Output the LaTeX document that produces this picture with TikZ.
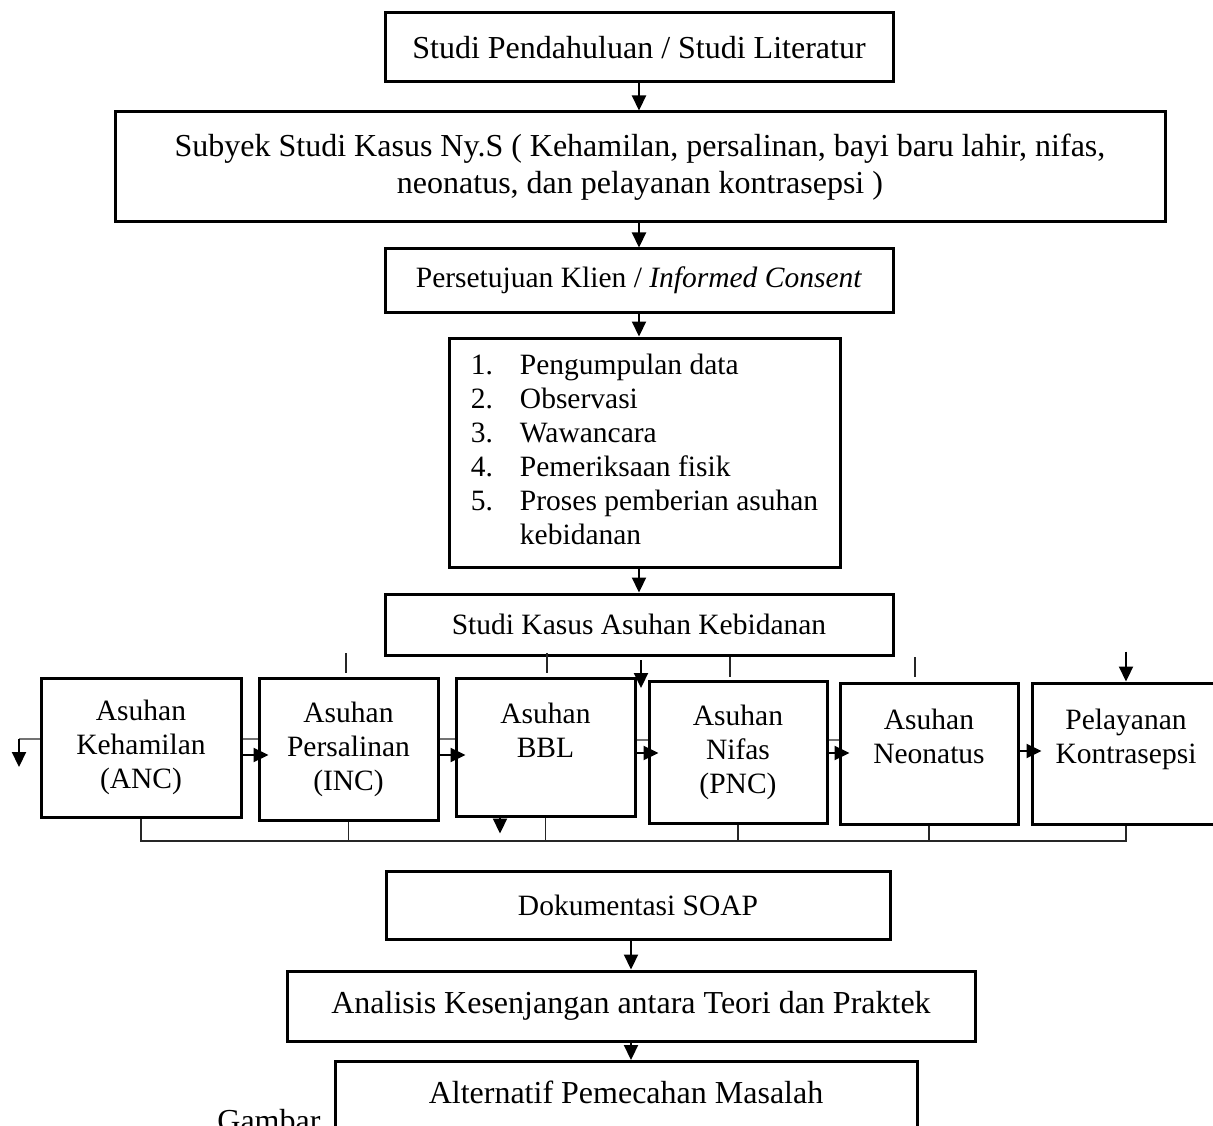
\documentclass[tikz,border=0pt]{standalone}
\usepackage{fontspec}
\setmainfont{Liberation Serif}
\usetikzlibrary{arrows.meta}
\begin{document}
\begin{tikzpicture}[x=1pt,y=-1pt,
  box/.style={draw,line width=3pt,inner sep=0pt,align=center,font=\fontsize{32}{37}\selectfont},
  stage/.style={box,font=\fontsize{29.5}{34}\selectfont},
  arr/.style={line width=2.2pt,-{Triangle[length=15pt,width=14pt]}},
  link/.style={arr,shorten >=-11pt},
  ghost/.style={draw=black!55,line width=1.3pt},
  tick/.style={draw=black!85,line width=1.2pt}]
\useasboundingbox (0,0) rectangle (1213,1126);
\clip (0,0) rectangle (1213,1126);
\node[box,minimum width=508pt,minimum height=69pt] (pend) at (639,47.5) {Studi Pendahuluan / Studi Literatur};
\node[box,minimum width=1050pt,minimum height=110pt] (subyek) at (640,167)
  {Subyek Studi Kasus Ny.S ( Kehamilan, persalinan, bayi baru lahir, nifas,\\ neonatus, dan pelayanan kontrasepsi )};
\node[stage,minimum width=508pt,minimum height=63pt] (setuju) at (639,280.5) {Persetujuan Klien / \textit{Informed Consent}};
\node[stage,minimum width=391pt,minimum height=229pt] (metode) at (644.5,452.5)
  {\begin{tabular}{@{}l@{\hspace{27pt}}l@{}}
   1. & Pengumpulan data\\
   2. & Observasi\\
   3. & Wawancara\\
   4. & Pemeriksaan fisik\\
   5. & Proses pemberian asuhan\\
      & kebidanan
   \end{tabular}};
\node[stage,minimum width=508pt,minimum height=61pt] (studi) at (639,624.5) {Studi Kasus Asuhan Kebidanan};
\foreach \x/\y/\w/\h/\nm/\txt in {141/747.5/200/139/anc/{Asuhan\\Kehamilan\\(ANC)},
  348.5/749/179/142/inc/{Asuhan\\Persalinan\\(INC)},545.5/747/179/138/bbl/{Asuhan\\BBL\\\mbox{}},
  738/752/178/142/pnc/{Asuhan\\Nifas\\(PNC)},929/753.5/178/141/neo/{Asuhan\\Neonatus\\\mbox{}},
  1126/753.5/188/141/kb/{Pelayanan\\Kontrasepsi\\\mbox{}}}
{
  \node[stage,minimum width=\w pt,minimum height=\h pt] (\nm) at (\x,\y) {\txt};
}
\node[stage,minimum width=504pt,minimum height=68pt] (soap) at (638,905) {Dokumentasi SOAP};
\node[box,minimum width=688pt,minimum height=70pt] (analisis) at (631,1006) {Analisis Kesenjangan antara Teori dan Praktek};
\node[box,anchor=north,minimum width=582pt,text height=42pt,text depth=60pt] (alt) at (626,1060) {Alternatif Pemecahan Masalah};
\node[anchor=base east,font=\fontsize{32}{37}\selectfont] (gambar) at (324,1131) {Gambar};
% alur utama
\draw[arr] (pend.south) -- (pend.south |- subyek.north);
\draw[arr] (subyek.south -| setuju.north) -- (setuju.north);
\draw[arr] (setuju.south) -- (setuju.south |- metode.north);
\draw[arr] (metode.south -| studi.north) -- (studi.north);
\coordinate (drop) at (641,660);
\draw[arr] (drop) -- ++(0,28);
\draw[arr] ([yshift=30pt]kb.north) -- (kb.north);
\foreach \x/\ya in {346/653,547/653,730/657,915/657}
  \draw[tick] (\x,\ya) -- (\x,\ya+20);
% deretan asuhan
\foreach \a/\b/\g/\k in {anc/inc/739/755,inc/bbl/739/755,bbl/pnc/740/753,pnc/neo/740/753}
{
  \draw[ghost] (\a.east |- 0,\g) -- (\b.west |- 0,\g);
  \draw[link] (\a.east |- 0,\k) -- (\b.west |- 0,\k);
}
\draw[link] (neo.east |- 0,751) -- (kb.west |- 0,751);
\coordinate (bend) at (19,739);
\draw[ghost] (anc.west |- bend) -- (bend);
\draw[arr] (bend) -- ++(0,28);
\draw[arr] ([xshift=-45.5pt]bbl.south) -- ++(0,16);
\coordinate (bus) at (141,841);
\draw[tick] (anc.south) -- (bus) -- (bus -| kb.south) -- (kb.south);
\foreach \nm in {inc,bbl,pnc,neo}
  \draw[tick] (\nm.south) -- (\nm.south |- bus);
% analisis
\draw[arr] (soap.south -| analisis.north) -- (analisis.north);
\draw[arr] (analisis.south) -- (analisis.south |- alt.north);
\end{tikzpicture}
\end{document}
